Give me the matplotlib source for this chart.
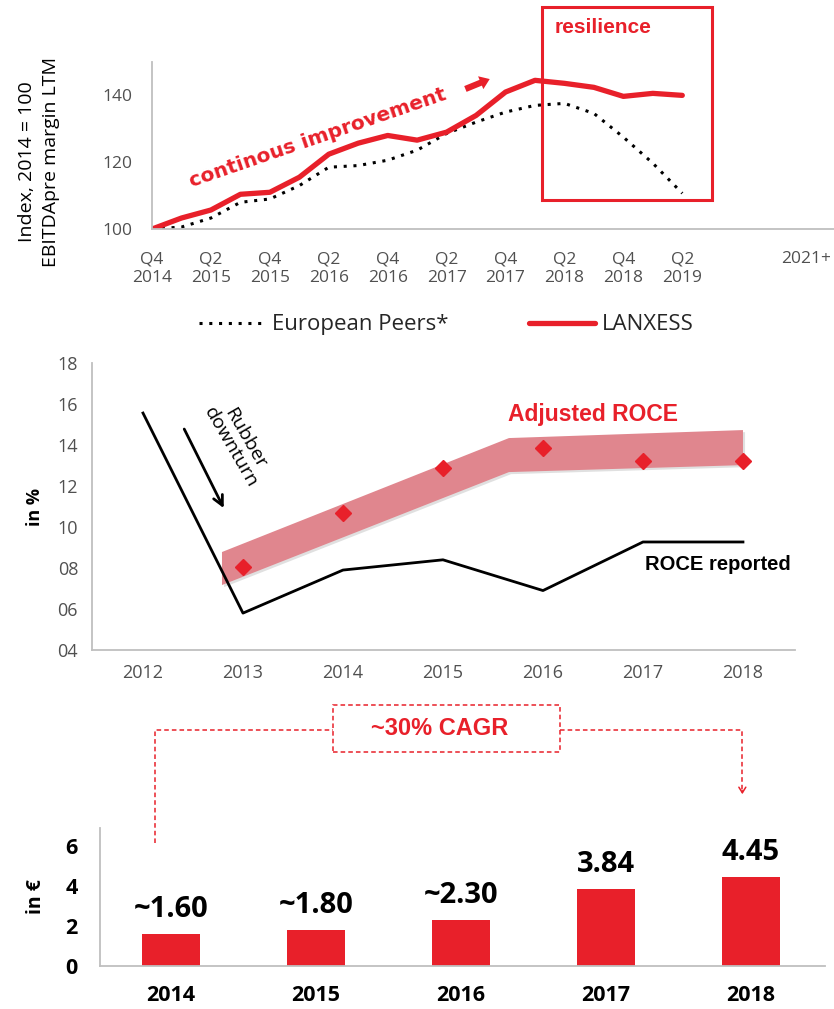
import numpy as np
import matplotlib
matplotlib.use("Agg")
import matplotlib.pyplot as plt
import matplotlib.patheffects as pe
from matplotlib.patches import Rectangle

RED = '#e8202a'
GREY_TXT = '#505050'
SPINE = '#bfbfbf'

# --- EBITDA margin index (quarterly, Q4 2014 = 100) ---
quarters = np.arange(19)
lanxess = [100, 103.3, 105.7, 110.4, 111, 115.5, 122.4, 125.7, 128, 126.6,
           129, 134, 141, 144.5, 143.6, 142.4, 139.7, 140.6, 140]
peers = [100, 100.6, 103.3, 108, 109, 113, 118.5, 119, 120.6, 123.6,
         128.6, 132, 135, 137, 137.6, 134.6, 127.5, 119.7, 110.7]
q_ticks = [0, 2, 4, 6, 8, 10, 12, 14, 16, 18, 22.2]
q_labels = ['Q4\n2014', 'Q2\n2015', 'Q4\n2015', 'Q2\n2016', 'Q4\n2016',
            'Q2\n2017', 'Q4\n2017', 'Q2\n2018', 'Q4\n2018', 'Q2\n2019', '2021+']

# --- ROCE ---
years = [2012, 2013, 2014, 2015, 2016, 2017, 2018]
roce_reported = [15.56, 5.8, 7.9, 8.4, 6.9, 9.27, 9.27]
adj_years = [2013, 2014, 2015, 2016, 2017, 2018]
roce_adjusted = [8.05, 10.7, 12.9, 13.85, 13.2, 13.2]
band_x = [2012.79, 2015.66, 2018.0]
band_lo = [7.17, 12.68, 13.02]
band_hi = [8.78, 14.34, 14.73]

# --- EPS ---
eps_years = ['2014', '2015', '2016', '2017', '2018']
eps = [1.60, 1.80, 2.30, 3.84, 4.45]
eps_labels = ['~1.60', '~1.80', '~2.30', '3.84', '4.45']

plt.rcParams['font.family'] = ['Open Sans', 'DejaVu Sans']

fig = plt.figure(figsize=(8.34, 10.09), dpi=100)


def clean_spines(ax):
    for s in ['top', 'right']:
        ax.spines[s].set_visible(False)
    for s in ['left', 'bottom']:
        ax.spines[s].set_color(SPINE)
        ax.spines[s].set_linewidth(1.3)


# ================= top: EBITDA margin index =================
ax1 = fig.add_axes([0.1823, 0.7730, 0.8177, 0.1656])
ax1.plot(quarters, peers, color='black', lw=2.2, linestyle=(0, (1, 2.2)),
         label='European Peers*')
ax1.plot(quarters, lanxess, color=RED, lw=3.8, solid_capstyle='round',
         label='LANXESS')
ax1.set_xlim(0, 23.15)
ax1.set_ylim(100, 150)
ax1.set_yticks([100, 120, 140])
ax1.set_xticks(q_ticks)
ax1.set_xticklabels(q_labels)
ax1.tick_params(axis='x', length=0, labelsize=12.5, colors=GREY_TXT, pad=16)
ax1.tick_params(axis='y', length=0, labelsize=12.5, colors=GREY_TXT, pad=14)
clean_spines(ax1)
fig.text(39 / 834, 1 - 162 / 1009, 'Index, 2014 = 100\nEBITDApre margin LTM',
         rotation=90, ha='center', va='center', fontsize=14,
         fontweight='medium', linespacing=1.45)

ax1.text(5.64, 127.3, 'continous improvement', color=RED, fontsize=14.5,
         fontweight='bold', rotation=19, ha='center', va='center',
         family='DejaVu Sans')
ax1.annotate('', xy=(11.55, 145.2), xytext=(10.55, 141.6),
             arrowprops=dict(arrowstyle='simple,head_width=1.0,head_length=0.7,tail_width=0.45',
                             color=RED, lw=0))
ax1.add_patch(Rectangle((13.25, 108.7), 5.77, 57.6, fill=False,
                        edgecolor=RED, lw=2.2, clip_on=False))
ax1.text(13.65, 160.3, 'resilience', color=RED, fontsize=15,
         fontweight='bold', va='center', family='Liberation Sans')

fig.legend(loc='center', bbox_to_anchor=(0.535, 0.678), ncol=2,
           frameon=False, fontsize=16, handlelength=3.0, columnspacing=3.6,
           handletextpad=0.3, labelcolor='#262626')

# ================= middle: ROCE =================
ax2 = fig.add_axes([0.1103, 0.3558, 0.8429, 0.2844])
band = ax2.fill(np.concatenate([band_x, band_x[::-1]]),
                np.concatenate([band_hi, band_lo[::-1]]),
                color='#e0868e', lw=0)[0]
band.set_path_effects([pe.SimplePatchShadow(offset=(1.5, -1.5), shadow_rgbFace='#999999', alpha=0.3),
                       pe.Normal()])
ax2.plot(years, roce_reported, color='black', lw=2.0)
ax2.plot(adj_years, roce_adjusted, linestyle='none', marker='D',
         markersize=8, color=RED)
ax2.set_xlim(2011.49, 2018.52)
ax2.set_ylim(4, 18)
ax2.set_yticks(range(4, 19, 2))
ax2.set_yticklabels(['%02d' % v for v in range(4, 19, 2)])
ax2.set_xticks(years)
ax2.tick_params(length=0, labelsize=13, colors=GREY_TXT, pad=10)
clean_spines(ax2)
ax2.set_ylabel('in %', fontsize=13, fontweight='bold', labelpad=10)

ax2.text(2016.5, 15.5, 'Adjusted ROCE', color=RED, fontsize=16.5,
         fontweight='bold', ha='center', va='center', family='Liberation Sans')
ax2.text(2017.02, 8.15, 'ROCE reported', color='black', fontsize=14.5,
         fontweight='bold', ha='left', va='center', family='Liberation Sans')
ax2.text(2012.95, 14.1, 'Rubber\ndownturn', fontsize=14, rotation=-60,
         ha='center', va='center', linespacing=0.95, fontweight='medium')
ax2.annotate('', xy=(2012.82, 10.8), xytext=(2012.4, 14.9),
             arrowprops=dict(arrowstyle='->,head_width=0.35,head_length=0.7',
                             color='black', lw=2))

# ================= bottom: EPS =================
ax3 = fig.add_axes([0.1199, 0.0426, 0.8693, 0.1368])
xpos = np.arange(len(eps))
ax3.bar(xpos, eps, width=0.4, color=RED)
for x, v, lab in zip(xpos, eps, eps_labels):
    ax3.text(x, v + 0.5, lab, ha='center', va='bottom', fontsize=21,
             fontweight='bold')
ax3.set_xlim(-0.49, 4.51)
ax3.set_ylim(0, 6.9)
ax3.set_yticks([0, 2, 4, 6])
ax3.set_xticks(xpos)
ax3.set_xticklabels(eps_years)
ax3.tick_params(axis='x', length=0, labelsize=15.5, pad=14)
ax3.tick_params(axis='y', length=0, labelsize=15.5, pad=16)
for lbl in ax3.get_xticklabels() + ax3.get_yticklabels():
    lbl.set_fontweight('bold')
clean_spines(ax3)
ax3.set_ylabel('in €', fontsize=14, fontweight='bold', labelpad=14)

# CAGR bracket
dash = dict(color=RED, lw=1.1, linestyle=(0, (3, 2)), clip_on=False)
ax3.plot([-0.11, -0.11, 1.117], [6.15, 11.8, 11.8], **dash)
ax3.plot([2.683, 3.94, 3.94], [11.8, 11.8, 8.7], **dash)
ax3.annotate('', xy=(3.94, 8.45), xytext=(3.94, 8.9),
             arrowprops=dict(arrowstyle='->,head_width=0.25,head_length=0.4',
                             color=RED, lw=1.1), annotation_clip=False)
ax3.add_patch(Rectangle((1.117, 10.7), 1.566, 2.35, fill=False,
                        edgecolor=RED, lw=1.1, linestyle=(0, (3, 2)),
                        clip_on=False))
ax3.text(1.855, 11.85, '~30% CAGR', color=RED, fontsize=17, fontweight='bold',
         ha='center', va='center', family='Liberation Sans')

fig.savefig('out.png', dpi=100)
